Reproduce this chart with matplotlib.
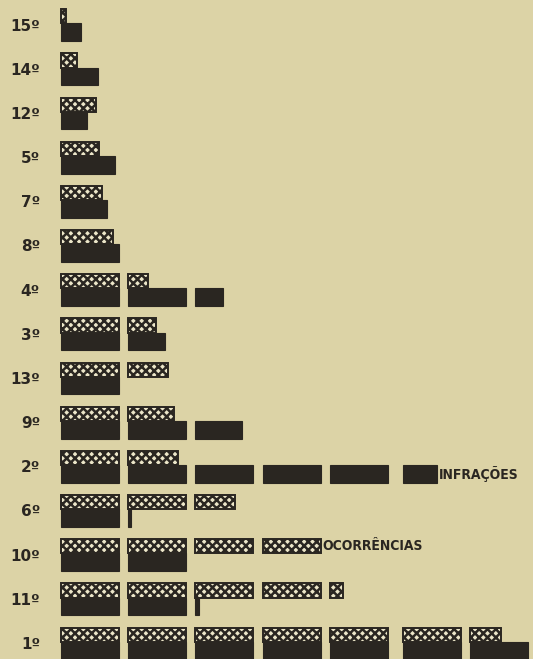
import math
import matplotlib
matplotlib.use("Agg")
import matplotlib.pyplot as plt

# rows from top to bottom (ordinal ranking)
ranks = ["15º", "14º", "12º", "5º", "7º", "8º", "4º", "3º", "13º", "9º",
         "2º", "6º", "10º", "11º", "1º"]
# one block = 100 units
ocorrencias = [9, 27, 60, 66, 71, 89, 134, 148, 169, 179, 186, 269, 400, 422, 652]
infracoes = [34, 64, 45, 93, 79, 100, 248, 164, 100, 281, 558, 105, 200, 206, 705]

BLOCK = 100
PITCH = 116      # block + gap, in value units
GROUP_GAP = 10   # extra gap after every 5 blocks

bg = "#dcd3a6"
dark = "#2a2621"
light = "#ece6c9"

plt.rcParams["hatch.linewidth"] = 1.8

fig = plt.figure(figsize=(5.33, 6.59), dpi=100, facecolor=bg)
ax = fig.add_axes([0, 0, 1, 1])
ax.set_facecolor(bg)


def blocks(values):
    ys, lefts, widths = [], [], []
    for i, v in enumerate(values):
        for k in range(math.ceil(v / BLOCK)):
            ys.append(i)
            lefts.append(k * PITCH + (k // 5) * GROUP_GAP)
            widths.append(min(BLOCK, v - k * BLOCK))
    return ys, lefts, widths


y, l, w = blocks(ocorrencias)
ax.barh([v - 0.2 for v in y], w, left=l, height=0.32, color=light,
        edgecolor=dark, hatch="xxxx", linewidth=1.4)
y, l, w = blocks(infracoes)
ax.barh([v + 0.16 for v in y], w, left=l, height=0.40, color=dark,
        edgecolor=dark, linewidth=0.8)

for i, r in enumerate(ranks):
    ax.text(-36, i + 0.02, r, ha="right", va="center", fontsize=11,
            fontweight="bold", color=dark)

# direct series labels
label_font = dict(fontsize=10, fontweight="bold", fontstretch="condensed",
                  family=["DejaVu Sans"], color=dark, ha="left", va="center")
i2 = ranks.index("2º")
ax.text(blocks([infracoes[i2]])[1][-1] + infracoes[i2] % BLOCK + 4, i2 + 0.17,
        "INFRAÇÕES", **label_font)
i10 = ranks.index("10º")
ax.text(blocks([ocorrencias[i10]])[1][-1] + BLOCK + 2, i10 - 0.2,
        "OCORRÊNCIAS", **label_font)

ax.set_xlim(-105, 814)
ax.set_ylim(14.35, -0.57)
ax.axis("off")

fig.savefig("out.png", dpi=100, facecolor=bg)
